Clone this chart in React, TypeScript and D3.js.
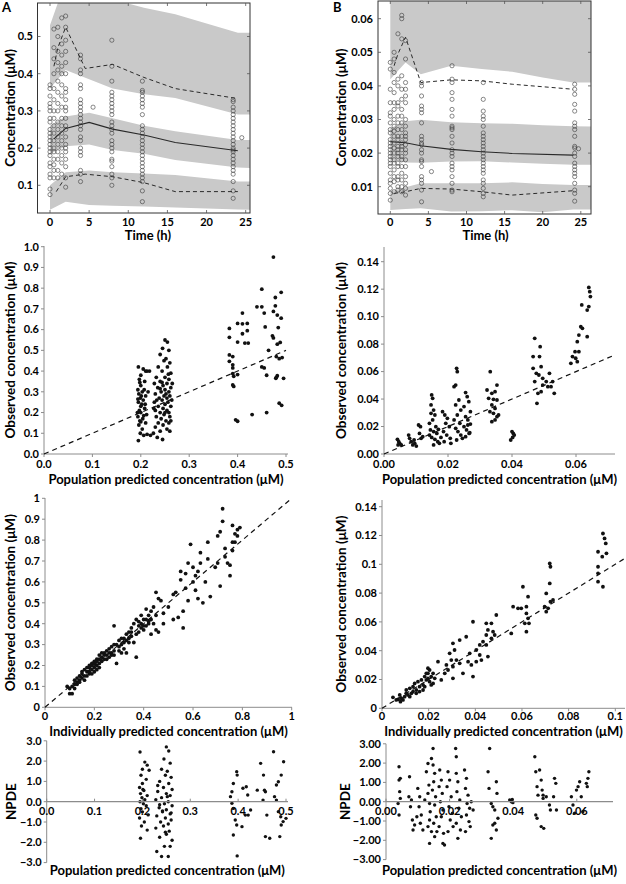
import React from "react";
import * as d3 from "d3";

// ---------------- DATA ----------------
const timeTicks = [0, 5, 10, 15, 20, 25];
const concTicksA = [0.1, 0.2, 0.3, 0.4, 0.5];
const concTicksB = [0.01, 0.02, 0.03, 0.04, 0.05, 0.06];

// Panel A VPC bands (time, lower, upper)
const bandTimesA = [0, 2, 5, 8, 12, 16, 24, 26];
const upperBandLoA = [0.36, 0.41, 0.385, 0.36, 0.345, 0.335, 0.29, 0.29];
const upperBandHiA = [0.53, 0.65, 0.65, 0.6, 0.577, 0.56, 0.51, 0.51];
const midBandLoA = [0.185, 0.205, 0.21, 0.195, 0.185, 0.168, 0.148, 0.146];
const midBandHiA = [0.26, 0.285, 0.295, 0.28, 0.26, 0.245, 0.222, 0.222];
const lowBandLoA = [0.034, 0.056, 0.047, 0.045, 0.043, 0.04, 0.035, 0.034];
const lowBandHiA = [0.1, 0.135, 0.14, 0.135, 0.132, 0.128, 0.11, 0.11];

const medianTimesA = [0.5, 2, 5, 8, 12, 16, 24];
const medianA = [0.225, 0.253, 0.269, 0.251, 0.235, 0.215, 0.193];
const p95TimesA = [0.5, 1, 2, 4.5, 8, 12, 16, 24];
const p95A = [0.42, 0.47, 0.525, 0.414, 0.425, 0.39, 0.36, 0.333];
const p5TimesA = [0.8, 2, 4.5, 8, 12, 16, 24];
const p5A = [0.083, 0.123, 0.13, 0.123, 0.107, 0.083, 0.083];

const obsTimesA = [0, 0.5, 1, 1.5, 2, 3.9, 5.5, 7.9, 11.8, 23.4, 24.5];
const obsValuesA = [
  [0.37, 0.36, 0.34, 0.32, 0.31, 0.3, 0.28, 0.27, 0.25, 0.24, 0.23, 0.22, 0.21, 0.2, 0.19, 0.18, 0.16, 0.15, 0.13, 0.12, 0.09, 0.075],
  [0.52, 0.47, 0.44, 0.4, 0.36, 0.33, 0.3, 0.28, 0.26, 0.24, 0.22, 0.2, 0.19, 0.17, 0.155, 0.14, 0.12],
  [0.525, 0.5, 0.46, 0.43, 0.41, 0.38, 0.35, 0.32, 0.3, 0.27, 0.25, 0.23, 0.21, 0.19, 0.17, 0.14, 0.12],
  [0.55, 0.48, 0.45, 0.42, 0.4, 0.37, 0.34, 0.31, 0.28, 0.26, 0.24, 0.22, 0.2, 0.18, 0.16, 0.13],
  [0.555, 0.525, 0.49, 0.46, 0.43, 0.4, 0.36, 0.35, 0.33, 0.31, 0.3, 0.28, 0.26, 0.25, 0.23, 0.21, 0.2, 0.19, 0.17, 0.15, 0.12, 0.095],
  [0.45, 0.44, 0.41, 0.4, 0.37, 0.36, 0.33, 0.32, 0.31, 0.3, 0.29, 0.28, 0.27, 0.26, 0.25, 0.23, 0.22, 0.2, 0.19, 0.18, 0.14, 0.13, 0.11],
  [0.31],
  [0.49, 0.42, 0.38, 0.35, 0.34, 0.33, 0.32, 0.31, 0.3, 0.29, 0.27, 0.26, 0.25, 0.24, 0.22, 0.21, 0.2, 0.19, 0.17, 0.165, 0.15, 0.13, 0.12, 0.1],
  [0.38, 0.355, 0.35, 0.34, 0.33, 0.32, 0.31, 0.29, 0.26, 0.25, 0.24, 0.23, 0.22, 0.21, 0.2, 0.19, 0.18, 0.17, 0.16, 0.15, 0.14, 0.13, 0.12, 0.11, 0.085, 0.056],
  [0.33, 0.325, 0.31, 0.3, 0.29, 0.28, 0.27, 0.26, 0.25, 0.24, 0.23, 0.22, 0.21, 0.2, 0.195, 0.19, 0.18, 0.17, 0.16, 0.15, 0.14, 0.13, 0.11, 0.085, 0.065],
  [0.228],
];

// Panel B VPC bands
const bandTimesB = [0, 2, 4, 8, 12, 16, 20, 24, 26.5];
const upperBandLoB = [0.042, 0.047, 0.0435, 0.046, 0.045, 0.0442, 0.0425, 0.041, 0.041];
const upperBandHiB = [0.07, 0.07, 0.07, 0.07, 0.07, 0.07, 0.07, 0.07, 0.07];
const midBandLoB = [0.018, 0.0172, 0.0171, 0.0175, 0.0176, 0.0172, 0.0168, 0.0165, 0.0165];
const midBandHiB = [0.0274, 0.0295, 0.0299, 0.0292, 0.0289, 0.0287, 0.0283, 0.028, 0.0279];
const lowBandLoB = [0.0031, 0.0034, 0.0036, 0.0026, 0.0027, 0.003, 0.0024, 0.0032, 0.0032];
const lowBandHiB = [0.0085, 0.0098, 0.011, 0.011, 0.011, 0.0113, 0.0108, 0.0105, 0.0105];

const medianTimesB = [0, 2, 4, 8, 12, 16, 24];
const medianB = [0.0234, 0.0231, 0.0222, 0.0211, 0.0204, 0.0199, 0.0194];
const p95TimesB = [0.5, 1, 2, 4, 8, 12, 16, 24];
const p95B = [0.046, 0.0495, 0.0545, 0.041, 0.0418, 0.0415, 0.0405, 0.039];
const p5TimesB = [0.5, 2, 4, 8, 12, 16, 24];
const p5B = [0.008, 0.0085, 0.0095, 0.0093, 0.0085, 0.0075, 0.0088];

const obsTimesB = [0, 0.5, 1, 1.5, 2, 4.1, 5.4, 8.1, 12.2, 24.2, 24.7];
const obsValuesB = [
  [0.047, 0.045, 0.039, 0.035, 0.032, 0.031, 0.029, 0.027, 0.026, 0.024, 0.023, 0.022, 0.021, 0.02, 0.019, 0.018, 0.017, 0.016, 0.014, 0.012, 0.011, 0.0095, 0.008, 0.006],
  [0.05, 0.048, 0.044, 0.041, 0.038, 0.035, 0.033, 0.03, 0.028, 0.0265, 0.025, 0.023, 0.0215, 0.02, 0.018, 0.017, 0.015, 0.013, 0.0115, 0.0085],
  [0.0555, 0.042, 0.04, 0.035, 0.034, 0.031, 0.029, 0.027, 0.025, 0.024, 0.022, 0.021, 0.02, 0.019, 0.017, 0.016, 0.013, 0.012, 0.01, 0.009],
  [0.061, 0.06, 0.054, 0.043, 0.039, 0.036, 0.033, 0.031, 0.029, 0.027, 0.025, 0.023, 0.022, 0.021, 0.019, 0.018, 0.016, 0.014, 0.012, 0.01, 0.0085],
  [0.0535, 0.048, 0.041, 0.039, 0.037, 0.035, 0.03, 0.028, 0.026, 0.025, 0.024, 0.0225, 0.021, 0.02, 0.018, 0.016, 0.013, 0.011, 0.0095, 0.0075],
  [0.041, 0.04, 0.037, 0.034, 0.033, 0.032, 0.029, 0.025, 0.024, 0.023, 0.0225, 0.021, 0.02, 0.018, 0.0175, 0.016, 0.013, 0.012, 0.011, 0.009, 0.0055],
  [0.0145],
  [0.046, 0.042, 0.041, 0.038, 0.036, 0.033, 0.031, 0.028, 0.0275, 0.027, 0.025, 0.023, 0.021, 0.02, 0.019, 0.017, 0.016, 0.015, 0.013, 0.011, 0.009, 0.0085],
  [0.041, 0.036, 0.0325, 0.031, 0.03, 0.028, 0.026, 0.025, 0.024, 0.023, 0.022, 0.021, 0.02, 0.019, 0.018, 0.017, 0.016, 0.015, 0.014, 0.012, 0.011, 0.0095, 0.008, 0.007],
  [0.0405, 0.039, 0.0375, 0.0345, 0.0325, 0.029, 0.028, 0.027, 0.025, 0.022, 0.0215, 0.02, 0.019, 0.017, 0.016, 0.015, 0.014, 0.013, 0.011, 0.009, 0.008, 0.0057],
  [0.0213],
];

// Observed vs population predicted, A
const predTicksA = [0, 0.1, 0.2, 0.3, 0.4, 0.5];
const obsTicksA = [0, 0.1, 0.2, 0.3, 0.4, 0.5, 0.6, 0.7, 0.8, 0.9, 1.0];
const obsVsPredA: [number, number][] = [
  [0.195, 0.42], [0.205, 0.41], [0.21, 0.4], [0.2, 0.38], [0.197, 0.36], [0.208, 0.35], [0.2, 0.33], [0.194, 0.31], [0.203, 0.3], [0.196, 0.29],
  [0.21, 0.28], [0.199, 0.27], [0.205, 0.26], [0.195, 0.25], [0.202, 0.24], [0.208, 0.22], [0.197, 0.21], [0.2, 0.2], [0.212, 0.19], [0.194, 0.18],
  [0.204, 0.17], [0.198, 0.16], [0.21, 0.15], [0.196, 0.14], [0.203, 0.12], [0.199, 0.1], [0.206, 0.09], [0.195, 0.065], [0.2, 0.23], [0.207, 0.31],
  [0.193, 0.2], [0.201, 0.28], [0.213, 0.095], [0.213, 0.4], [0.198, 0.345], [0.206, 0.185], [0.194, 0.265], [0.2, 0.155], [0.209, 0.24],
  [0.218, 0.4], [0.22, 0.09], [0.215, 0.3],
  [0.25, 0.55], [0.255, 0.54], [0.245, 0.51], [0.258, 0.5], [0.24, 0.48], [0.252, 0.46], [0.248, 0.45], [0.26, 0.44], [0.236, 0.42], [0.255, 0.42],
  [0.244, 0.4], [0.262, 0.39], [0.232, 0.37], [0.25, 0.37], [0.258, 0.36], [0.24, 0.35], [0.228, 0.34], [0.254, 0.34], [0.246, 0.33], [0.262, 0.32],
  [0.235, 0.32], [0.25, 0.31], [0.242, 0.3], [0.258, 0.3], [0.23, 0.29], [0.248, 0.28], [0.26, 0.28], [0.238, 0.27], [0.254, 0.27], [0.244, 0.26],
  [0.228, 0.25], [0.256, 0.25], [0.25, 0.24], [0.236, 0.23], [0.262, 0.23], [0.246, 0.22], [0.23, 0.21], [0.254, 0.21], [0.24, 0.2], [0.258, 0.2],
  [0.248, 0.19], [0.232, 0.18], [0.26, 0.18], [0.242, 0.17], [0.252, 0.16], [0.236, 0.15], [0.258, 0.15], [0.246, 0.14], [0.23, 0.13], [0.254, 0.12],
  [0.24, 0.11], [0.26, 0.11], [0.234, 0.08], [0.245, 0.07], [0.226, 0.1], [0.264, 0.26], [0.265, 0.34], [0.227, 0.22], [0.24, 0.315], [0.252, 0.29],
  [0.233, 0.26], [0.25, 0.2], [0.262, 0.16], [0.244, 0.345], [0.257, 0.385],
  [0.383, 0.606], [0.383, 0.563], [0.383, 0.478], [0.39, 0.47], [0.383, 0.447], [0.39, 0.43], [0.39, 0.415], [0.39, 0.388], [0.392, 0.375], [0.4, 0.383],
  [0.39, 0.333], [0.392, 0.326], [0.396, 0.165], [0.4, 0.158], [0.4, 0.63], [0.41, 0.628], [0.4, 0.54], [0.415, 0.535], [0.41, 0.58], [0.42, 0.595],
  [0.42, 0.63], [0.41, 0.68], [0.422, 0.535], [0.43, 0.19], [0.44, 0.71], [0.45, 0.795], [0.45, 0.71], [0.455, 0.68], [0.457, 0.613], [0.45, 0.42],
  [0.455, 0.415], [0.46, 0.38], [0.464, 0.5], [0.46, 0.2], [0.474, 0.95], [0.474, 0.688], [0.472, 0.57], [0.474, 0.56], [0.478, 0.755], [0.478, 0.715],
  [0.482, 0.67], [0.484, 0.61], [0.482, 0.53], [0.488, 0.538], [0.48, 0.47], [0.486, 0.46], [0.492, 0.465], [0.482, 0.378], [0.479, 0.365], [0.49, 0.78],
  [0.49, 0.655], [0.495, 0.365], [0.486, 0.245], [0.491, 0.235], [0.48, 0.37],
];

// Observed vs population predicted, B
const predTicksB = [0, 0.02, 0.04, 0.06];
const obsTicksB = [0, 0.02, 0.04, 0.06, 0.08, 0.1, 0.12, 0.14];
const obsVsPredB: [number, number][] = [
  [0.0042, 0.0107], [0.0046, 0.009], [0.0049, 0.0078], [0.0054, 0.0066], [0.0044, 0.0066],
  [0.0077, 0.0138], [0.008, 0.0114], [0.0085, 0.009], [0.009, 0.0066], [0.0096, 0.0078], [0.0101, 0.0058], [0.0094, 0.0102],
  [0.0108, 0.0211], [0.0114, 0.0199], [0.0111, 0.015], [0.0116, 0.0114], [0.0121, 0.0126],
  [0.0149, 0.043], [0.0152, 0.0405], [0.0147, 0.0357], [0.0155, 0.032], [0.0147, 0.0296], [0.0159, 0.0284], [0.0152, 0.0248], [0.0142, 0.0223],
  [0.0162, 0.0199], [0.0145, 0.0175], [0.0155, 0.0163], [0.0165, 0.015], [0.0142, 0.0138], [0.0149, 0.0121], [0.0159, 0.0107], [0.0168, 0.009],
  [0.0155, 0.0066], [0.0173, 0.0078], [0.0178, 0.0121], [0.017, 0.018],
  [0.0183, 0.0308], [0.019, 0.0284], [0.0198, 0.026], [0.0193, 0.0223], [0.0204, 0.0199], [0.0186, 0.0163], [0.0196, 0.0138], [0.0207, 0.0114],
  [0.0188, 0.009], [0.0209, 0.0078],
  [0.0224, 0.0502], [0.0229, 0.0599], [0.0227, 0.0624], [0.0219, 0.049], [0.0234, 0.0393], [0.0224, 0.0357], [0.024, 0.032], [0.0229, 0.0284],
  [0.0219, 0.0248], [0.0237, 0.0223], [0.0224, 0.0187], [0.0231, 0.0163], [0.024, 0.0138], [0.0227, 0.0102], [0.0245, 0.0114],
  [0.0255, 0.0447], [0.026, 0.0417], [0.0265, 0.0381], [0.025, 0.0345], [0.027, 0.0308], [0.0255, 0.0272], [0.0262, 0.0248], [0.027, 0.0218],
  [0.025, 0.0199], [0.0258, 0.0175], [0.0266, 0.015], [0.0255, 0.0126], [0.0268, 0.0155], [0.0262, 0.0211],
  [0.0332, 0.0599], [0.0322, 0.0466], [0.0337, 0.0442], [0.0347, 0.0454], [0.0353, 0.0502], [0.0327, 0.0405], [0.0342, 0.0398], [0.0353, 0.0393],
  [0.0337, 0.0357], [0.0347, 0.0332], [0.0331, 0.0308], [0.0342, 0.0296], [0.0353, 0.0272], [0.0337, 0.0235], [0.0347, 0.0248], [0.0358, 0.0284],
  [0.0396, 0.0102], [0.0402, 0.0121], [0.0404, 0.015], [0.0407, 0.0138], [0.04, 0.0163],
  [0.0471, 0.0842], [0.0466, 0.0709], [0.0486, 0.0709], [0.0488, 0.0781], [0.0466, 0.0624], [0.0476, 0.0587], [0.0491, 0.0636], [0.0484, 0.0575],
  [0.0496, 0.0551], [0.0471, 0.0527], [0.0507, 0.0527], [0.0517, 0.0587], [0.0527, 0.0527], [0.0512, 0.049], [0.0496, 0.0502], [0.0481, 0.0442],
  [0.0478, 0.0369], [0.0491, 0.0454], [0.0522, 0.049], [0.0532, 0.0442],
  [0.0584, 0.066], [0.0589, 0.0709], [0.0599, 0.0697], [0.0604, 0.0672], [0.0597, 0.0745], [0.0609, 0.0745], [0.0604, 0.0818], [0.0609, 0.0866],
  [0.0615, 0.0927], [0.062, 0.0915], [0.0618, 0.1085], [0.0635, 0.1048], [0.064, 0.1073], [0.0635, 0.0854], [0.064, 0.1213], [0.0643, 0.1182],
  [0.0645, 0.1146],
];

// Observed vs individual predicted, A
const ipredTicksA = [0, 0.2, 0.4, 0.6, 0.8, 1];
const obsTicksA2 = [0, 0.1, 0.2, 0.3, 0.4, 0.5, 0.6, 0.7, 0.8, 0.9, 1];
const obsVsIpredA: [number, number][] = [
  [0.09, 0.1], [0.1, 0.09], [0.1, 0.065], [0.11, 0.065], [0.11, 0.1], [0.12, 0.09], [0.12, 0.11], [0.13, 0.12], [0.13, 0.14], [0.14, 0.13],
  [0.14, 0.15], [0.15, 0.14], [0.15, 0.16], [0.16, 0.15], [0.16, 0.13], [0.17, 0.17], [0.17, 0.15], [0.18, 0.19], [0.18, 0.16], [0.18, 0.2],
  [0.19, 0.18], [0.19, 0.21], [0.2, 0.19], [0.2, 0.22], [0.2, 0.17], [0.21, 0.2], [0.21, 0.23], [0.22, 0.21], [0.22, 0.19], [0.22, 0.25],
  [0.23, 0.24], [0.23, 0.22], [0.24, 0.26], [0.24, 0.23], [0.25, 0.27], [0.25, 0.25], [0.26, 0.24], [0.26, 0.28], [0.27, 0.26], [0.27, 0.29],
  [0.28, 0.27], [0.28, 0.39], [0.28, 0.25], [0.29, 0.21], [0.29, 0.3], [0.3, 0.29], [0.3, 0.32], [0.31, 0.3], [0.31, 0.26], [0.32, 0.33],
  [0.32, 0.31], [0.33, 0.35], [0.33, 0.26], [0.34, 0.33], [0.34, 0.36], [0.35, 0.38], [0.35, 0.34], [0.36, 0.31], [0.36, 0.4], [0.37, 0.42],
  [0.37, 0.24], [0.38, 0.36], [0.38, 0.41], [0.39, 0.38], [0.39, 0.44], [0.4, 0.42], [0.4, 0.37], [0.41, 0.39], [0.41, 0.47], [0.42, 0.44],
  [0.42, 0.4], [0.43, 0.35], [0.43, 0.46], [0.44, 0.48], [0.45, 0.55], [0.45, 0.37], [0.46, 0.52], [0.46, 0.36], [0.47, 0.51], [0.48, 0.45],
  [0.48, 0.4], [0.5, 0.48], [0.52, 0.54], [0.52, 0.42], [0.53, 0.55], [0.54, 0.43], [0.55, 0.61], [0.55, 0.65], [0.56, 0.46], [0.56, 0.38],
  [0.57, 0.64], [0.57, 0.57], [0.58, 0.51], [0.58, 0.69], [0.59, 0.78], [0.6, 0.6], [0.6, 0.67], [0.61, 0.63], [0.61, 0.56], [0.62, 0.52],
  [0.62, 0.65], [0.63, 0.69], [0.63, 0.74], [0.64, 0.5], [0.65, 0.6], [0.66, 0.79], [0.66, 0.71], [0.67, 0.53], [0.69, 0.67], [0.7, 0.82],
  [0.7, 0.69], [0.71, 0.58], [0.71, 0.84], [0.72, 0.95], [0.72, 0.89], [0.73, 0.76], [0.73, 0.72], [0.74, 0.69], [0.75, 0.63], [0.75, 0.68],
  [0.76, 0.87], [0.76, 0.79], [0.77, 0.79], [0.77, 0.83], [0.78, 0.82], [0.78, 0.85], [0.79, 0.86], [0.76, 0.75],
  [0.12, 0.13], [0.13, 0.11], [0.14, 0.12], [0.15, 0.17], [0.16, 0.18], [0.17, 0.19], [0.18, 0.17], [0.19, 0.2], [0.19, 0.16], [0.2, 0.21],
  [0.21, 0.18], [0.21, 0.22], [0.22, 0.23], [0.23, 0.26], [0.24, 0.25], [0.25, 0.23], [0.26, 0.26], [0.27, 0.25], [0.28, 0.3], [0.3, 0.27],
  [0.31, 0.33], [0.32, 0.28], [0.33, 0.32], [0.34, 0.31], [0.35, 0.36], [0.37, 0.35], [0.38, 0.39], [0.39, 0.4], [0.4, 0.39], [0.41, 0.42],
  [0.42, 0.41], [0.43, 0.42], [0.44, 0.4], [0.45, 0.44],
];

// Observed vs individual predicted, B
const ipredTicksB = [0, 0.02, 0.04, 0.06, 0.08, 0.1];
const obsTicksB2 = [0, 0.02, 0.04, 0.06, 0.08, 0.1, 0.12, 0.14];
const obsVsIpredB: [number, number][] = [
  [0.0947, 0.1214], [0.0954, 0.118], [0.0959, 0.1145], [0.0962, 0.1076], [0.0926, 0.1087], [0.0944, 0.1053], [0.0926, 0.0983], [0.0926, 0.0937],
  [0.0947, 0.0844], [0.0926, 0.0879],
  [0.0719, 0.1006], [0.0722, 0.0983], [0.0719, 0.0867], [0.0704, 0.0798], [0.0697, 0.0706], [0.0704, 0.0671], [0.0712, 0.0694], [0.0722, 0.074],
  [0.0733, 0.0752],
  [0.0604, 0.0844], [0.0626, 0.0775], [0.0619, 0.0706], [0.0597, 0.0694], [0.0619, 0.0659], [0.0626, 0.0625], [0.0612, 0.059], [0.063, 0.059],
  [0.0619, 0.0532], [0.0562, 0.0706], [0.0583, 0.0694], [0.0554, 0.052],
  [0.049, 0.0648], [0.0469, 0.059], [0.0447, 0.059], [0.0454, 0.0544], [0.0476, 0.0532], [0.0483, 0.0509], [0.0469, 0.0486], [0.0447, 0.0509],
  [0.0433, 0.0463], [0.0419, 0.044], [0.0404, 0.0405], [0.0419, 0.037], [0.0447, 0.044], [0.0454, 0.0359], [0.0426, 0.0335], [0.0404, 0.0324],
  [0.0376, 0.0382], [0.0369, 0.0324], [0.0383, 0.0301], [0.039, 0.022], [0.039, 0.0601], [0.0361, 0.0497], [0.0333, 0.0474], [0.0304, 0.0451],
  [0.0311, 0.0405], [0.029, 0.0382], [0.0297, 0.0335], [0.0276, 0.0301], [0.0283, 0.0266], [0.0269, 0.0243], [0.0304, 0.0289], [0.0319, 0.0335],
  [0.0333, 0.0312], [0.0347, 0.0243], [0.0304, 0.0208], [0.0254, 0.0197], [0.024, 0.0324],
  [0.019, 0.0197], [0.0197, 0.0243], [0.0204, 0.0266], [0.0183, 0.022], [0.0211, 0.022], [0.0219, 0.0173], [0.0176, 0.0162], [0.0161, 0.015],
  [0.0147, 0.0127], [0.0133, 0.0116], [0.0126, 0.0104], [0.0111, 0.0093], [0.0097, 0.0081], [0.0083, 0.0069], [0.0069, 0.0062], [0.0076, 0.0093],
  [0.0104, 0.0127], [0.0119, 0.0139], [0.0133, 0.015], [0.0154, 0.0185], [0.014, 0.0173], [0.0169, 0.0197], [0.019, 0.0243], [0.0204, 0.0185],
  [0.0219, 0.0243], [0.0226, 0.0208], [0.0197, 0.0278], [0.0176, 0.0127], [0.0147, 0.0104], [0.0119, 0.0081], [0.009, 0.0058], [0.0104, 0.0104],
  [0.0061, 0.0058], [0.0079, 0.0046], [0.0161, 0.0116], [0.0183, 0.015], [0.0211, 0.0162], [0.0047, 0.0076], [0.0197, 0.0208],
];

// NPDE vs population predicted, A
const npdePredTicksA = [0, 0.1, 0.2, 0.3, 0.4, 0.5];
const npdeTicksA = [-3, -2, -1, 0, 1, 2, 3];
const npdeClusterPredA1 = [0.195, 0.205, 0.21, 0.2, 0.197, 0.208, 0.2, 0.194, 0.203, 0.196, 0.21, 0.199, 0.205, 0.195, 0.202, 0.208, 0.197, 0.2, 0.212, 0.194, 0.204, 0.198, 0.21, 0.196, 0.214, 0.201];
const npdeClusterValA1 = [2.45, 1.95, 1.8, 1.6, 1.3, 1.1, 0.9, 0.7, 0.55, 0.4, 0.3, 0.2, 0.1, 0.0, -0.1, -0.2, -0.35, -0.5, -0.65, -0.8, -1.0, -1.2, -1.4, -1.8, 1.55, 0.6];
const npdeClusterPredA2 = [0.25, 0.255, 0.245, 0.258, 0.24, 0.252, 0.248, 0.26, 0.236, 0.255, 0.244, 0.262, 0.232, 0.25, 0.258, 0.24, 0.228, 0.254, 0.246, 0.262, 0.235, 0.25, 0.242, 0.258, 0.23, 0.248, 0.26, 0.238, 0.254, 0.244, 0.228, 0.256, 0.25, 0.236, 0.262, 0.246, 0.23, 0.254, 0.24, 0.258, 0.248, 0.232, 0.26, 0.242, 0.252, 0.236];
const npdeClusterValA2 = [2.7, 2.5, 2.1, 1.9, 1.6, 1.5, 1.3, 1.2, 1.0, 0.9, 0.7, 0.6, 0.5, 0.4, 0.3, 0.2, 0.1, 0.0, -0.1, -0.2, -0.3, -0.4, -0.5, -0.6, -0.7, -0.8, -0.9, -1.0, -1.1, -1.2, -1.3, -1.45, -1.6, -1.75, -1.9, -2.2, -2.45, -2.7, -2.7, -2.2, -1.5, 0.8, -0.55, -0.45, 0.25, -0.15];
const npdeHighA: [number, number][] = [
  [0.384, 0.25], [0.387, -0.08], [0.39, -0.33], [0.397, 1.48], [0.398, 1.31], [0.39, 0.9], [0.387, 0.49], [0.394, -0.9], [0.397, -1.15], [0.39, -1.64],
  [0.398, -2.67], [0.408, -1.23], [0.41, 0.66], [0.417, 0.74], [0.42, 0.33], [0.421, -0.66], [0.415, -0.66], [0.426, -0.41], [0.44, 0.57], [0.447, 1.89],
  [0.453, 1.31], [0.455, 0.57], [0.457, 0.49], [0.452, 0.08], [0.46, -0.66], [0.457, -1.72], [0.466, -1.8], [0.474, 2.46], [0.476, 0.25], [0.48, 0.08],
  [0.484, 0.98], [0.48, 0.82], [0.49, 1.31], [0.495, 1.97], [0.484, -0.49], [0.489, -0.74], [0.49, -1.15], [0.494, -0.98], [0.487, -1.72], [0.5, -0.82],
];

// NPDE vs population predicted, B
const npdePredTicksB = [0, 0.02, 0.04, 0.06];
const npdeTicksB = [-3, -2, -1, 0, 1, 2, 3];
const npdeB: [number, number][] = [
  [0.0041, 1.81], [0.0045, 1.21], [0.0041, 1.12], [0.0043, 0.52], [0.0045, 0.17], [0.0038, -0.09], [0.0041, -0.69],
  [0.0074, 1.29], [0.0077, -0.26], [0.0072, 0.26], [0.008, 0.09], [0.0083, -0.95], [0.0085, -1.47], [0.009, -1.21],
  [0.01, 0.69], [0.0106, 0.26], [0.0104, -0.26], [0.0111, -0.69], [0.0108, -1.12], [0.0116, -1.47], [0.0097, -0.78],
  [0.0127, 1.55], [0.0132, 1.98], [0.0135, 0.86], [0.0132, 0.43], [0.0137, -0.09], [0.0139, -0.52], [0.0137, -0.95], [0.0132, -1.29],
  [0.0143, -1.55], [0.0137, -2.16], [0.0122, 0.09],
  [0.0148, 2.76], [0.0143, 2.24], [0.0148, 1.9], [0.0153, 1.47], [0.015, 1.03], [0.0146, 0.6], [0.0156, 0.26], [0.0153, -0.17], [0.0158, -0.78],
  [0.015, -1.12], [0.016, -1.55], [0.0153, -1.81],
  [0.0169, 1.64], [0.0174, 1.12], [0.0167, 0.78], [0.0177, 0.43], [0.0171, 0.0], [0.0179, -0.43], [0.0174, -0.78], [0.0167, -1.29], [0.0181, -1.64],
  [0.0179, -2.16], [0.0184, -2.24],
  [0.0195, 1.55], [0.02, 1.12], [0.0192, 0.78], [0.0205, 0.26], [0.0198, -0.26], [0.0209, -0.6], [0.0202, -0.95], [0.0211, -1.29], [0.0195, -1.55],
  [0.0221, 1.47], [0.0226, 1.03], [0.0223, 0.52], [0.0232, 0.09], [0.0229, -0.34], [0.0237, -0.78], [0.0221, -1.12], [0.0234, -1.47], [0.0226, -1.9],
  [0.0219, 2.76], [0.0221, 2.33],
  [0.0247, 1.64], [0.0253, 1.21], [0.025, 0.69], [0.0258, 0.34], [0.0255, -0.09], [0.0263, -0.34], [0.0253, -0.69], [0.0261, -1.03], [0.0265, -1.29],
  [0.025, -1.55], [0.0268, 0.0], [0.0274, -0.43],
  [0.0326, 2.76], [0.0321, 1.55], [0.0324, 0.69], [0.0331, -0.09], [0.0336, -0.26], [0.0342, -0.43], [0.0347, 1.03], [0.0349, 0.43], [0.0342, -1.12],
  [0.0347, -1.47], [0.0331, -1.9], [0.0352, -0.86], [0.0336, -1.21],
  [0.0389, 0.09], [0.0394, 0.0], [0.0397, 0.12], [0.0399, -0.05],
  [0.0468, 2.33], [0.0471, 1.55], [0.0475, 0.78], [0.0478, 0.34], [0.0471, -0.69], [0.0475, -0.86], [0.0483, 1.64], [0.0488, 1.12], [0.0491, 0.6],
  [0.0494, 0.34], [0.0488, -1.29], [0.0496, -1.38], [0.0494, 0.17], [0.0504, 0.26], [0.0514, -0.17], [0.0517, -0.43], [0.053, 1.21], [0.0534, 0.95],
  [0.0536, -0.43], [0.0527, 0.26],
  [0.0583, 0.26], [0.0588, -0.17], [0.0593, -0.6], [0.0599, 0.6], [0.0604, 0.78], [0.0609, 1.03], [0.0614, 0.26], [0.0619, -0.52], [0.063, 0.95],
  [0.0635, 1.21], [0.0638, 1.55], [0.0633, 0.78],
];

// ---------------- RENDERING ----------------
const FONT = "Lato, 'Open Sans', 'DejaVu Sans', sans-serif";
const BAND = "#c9c9c9";
const INK = "#2a2a2a";
const AXIS = "#8c8c8c";
const TICK_FS = 11;
const XTITLE_FS = 13;
const YTITLE_FS = 13.5;

type Scale = d3.ScaleLinear<number, number>;

function Band({ xs, ys, t, lo, hi }: { xs: Scale; ys: Scale; t: number[]; lo: number[]; hi: number[] }) {
  const idx = t.map((_, i) => i);
  const a = d3
    .area<number>()
    .x((i) => xs(t[i]))
    .y0((i) => ys(lo[i]))
    .y1((i) => ys(hi[i]));
  return <path d={a(idx) || ""} fill={BAND} stroke="none" />;
}

function Line({ xs, ys, t, v, dash }: { xs: Scale; ys: Scale; t: number[]; v: number[]; dash?: string }) {
  const idx = t.map((_, i) => i);
  const l = d3
    .line<number>()
    .x((i) => xs(t[i]))
    .y((i) => ys(v[i]));
  return <path d={l(idx) || ""} fill="none" stroke={INK} strokeWidth={dash ? 1 : 1.1} strokeDasharray={dash} />;
}

function VpcPanel(props: {
  id: string;
  x0: number; x1: number; y0: number; y1: number;
  xs: Scale; ys: Scale;
  yTicks: number[]; yFmt: (v: number) => string;
  bands: { t: number[]; lo: number[]; hi: number[] }[];
  med: [number[], number[]]; p95: [number[], number[]]; p5: [number[], number[]];
  obsT: number[]; obsV: number[][];
  letter: string; letterX: number; titleX: number; labelRight: number;
}) {
  const { id, x0, x1, y0, y1, xs, ys } = props;
  return (
    <g>
      <defs>
        <clipPath id={id}>
          <rect x={x0} y={y0} width={x1 - x0} height={y1 - y0} />
        </clipPath>
      </defs>
      <g clipPath={`url(#${id})`}>
        {props.bands.map((b, i) => (
          <Band key={i} xs={xs} ys={ys} t={b.t} lo={b.lo} hi={b.hi} />
        ))}
        {props.obsT.map((t, i) =>
          props.obsV[i].map((v, j) => (
            <circle key={`${i}-${j}`} cx={xs(t)} cy={ys(v)} r={2.1} fill="none" stroke="#3a3a3a" strokeWidth={0.6} />
          ))
        )}
        <Line xs={xs} ys={ys} t={props.med[0]} v={props.med[1]} />
        <Line xs={xs} ys={ys} t={props.p95[0]} v={props.p95[1]} dash="4,3" />
        <Line xs={xs} ys={ys} t={props.p5[0]} v={props.p5[1]} dash="4,3" />
      </g>
      <rect x={x0} y={y0} width={x1 - x0} height={y1 - y0} fill="none" stroke="#333" strokeWidth={1} />
      {timeTicks.map((t) => (
        <g key={t}>
          <line x1={xs(t)} x2={xs(t)} y1={y1} y2={y1 - 3} stroke="#555" strokeWidth={0.8} />
          <line x1={xs(t)} x2={xs(t)} y1={y0} y2={y0 + 3} stroke="#555" strokeWidth={0.8} />
          <text x={xs(t)} y={226} textAnchor="middle" fontSize={TICK_FS} fontWeight={700}>{t}</text>
        </g>
      ))}
      {props.yTicks.map((v) => (
        <g key={v}>
          <line x1={x0} x2={x0 + 3} y1={ys(v)} y2={ys(v)} stroke="#555" strokeWidth={0.8} />
          <line x1={x1} x2={x1 - 3} y1={ys(v)} y2={ys(v)} stroke="#555" strokeWidth={0.8} />
          <text x={props.labelRight} y={ys(v)} dy="0.35em" textAnchor="end" fontSize={TICK_FS} fontWeight={700}>{props.yFmt(v)}</text>
        </g>
      ))}
      <text x={(xs(0) + xs(25)) / 2} y={240} textAnchor="middle" fontSize={XTITLE_FS} fontWeight={700}>Time (h)</text>
      <text transform={`translate(${props.titleX},${(y0 + y1) / 2}) rotate(-90)`} textAnchor="middle" dy="0.35em" fontSize={YTITLE_FS} fontWeight={700}>Concentration (μM)</text>
      <text x={props.letterX} y={12} fontSize={13} fontWeight={700}>{props.letter}</text>
    </g>
  );
}

function ScatterPanel(props: {
  xs: Scale; ys: Scale;
  xTicks: number[]; yTicks: number[];
  xFmt: (v: number) => string; yFmt: (v: number) => string;
  xEnd: number; yTop: number;
  pts: [number, number][];
  identity: number;
  xLabelY: number; titleY: number; titleX: number; xTitle: string; yTitle: string;
}) {
  const { xs, ys } = props;
  const x0 = xs(0), yb = ys(0);
  return (
    <g>
      <line x1={x0} x2={x0} y1={yb} y2={props.yTop} stroke={AXIS} strokeWidth={1} />
      <line x1={x0} x2={props.xEnd} y1={yb} y2={yb} stroke={AXIS} strokeWidth={1} />
      {props.yTicks.map((v) => (
        <g key={v}>
          <line x1={x0 - 3} x2={x0} y1={ys(v)} y2={ys(v)} stroke={AXIS} strokeWidth={1} />
          <text x={x0 - 5} y={ys(v)} dy="0.35em" textAnchor="end" fontSize={TICK_FS} fontWeight={700}>{props.yFmt(v)}</text>
        </g>
      ))}
      {props.xTicks.map((v) => (
        <g key={v}>
          <line x1={xs(v)} x2={xs(v)} y1={yb} y2={yb + 3} stroke={AXIS} strokeWidth={1} />
          <text x={xs(v)} y={props.xLabelY} textAnchor="middle" fontSize={TICK_FS} fontWeight={700}>{props.xFmt(v)}</text>
        </g>
      ))}
      {props.pts.map((p, i) => (
        <circle key={i} cx={xs(p[0])} cy={ys(p[1])} r={1.9} fill="#111" />
      ))}
      <line x1={xs(0)} y1={ys(0)} x2={xs(props.identity)} y2={ys(props.identity)} stroke="#111" strokeWidth={1.2} strokeDasharray="5,4" />
      <text x={(x0 + props.xEnd) / 2} y={props.titleY} textAnchor="middle" fontSize={XTITLE_FS} fontWeight={700}>{props.xTitle}</text>
      <text transform={`translate(${props.titleX},${(yb + props.yTop) / 2}) rotate(-90)`} textAnchor="middle" dy="0.35em" fontSize={YTITLE_FS} fontWeight={700}>{props.yTitle}</text>
    </g>
  );
}

function NpdePanel(props: {
  xs: Scale; ys: Scale;
  xTicks: number[]; yTicks: number[];
  xFmt: (v: number) => string; yFmt: (v: number) => string;
  xEnd: number; pts: [number, number][];
  titleX: number; xTitle: string;
}) {
  const { xs, ys } = props;
  const x0 = xs(0);
  return (
    <g>
      <line x1={x0} x2={x0} y1={ys(-3)} y2={ys(3)} stroke={AXIS} strokeWidth={1} />
      {props.yTicks.map((v) => (
        <g key={v}>
          <line x1={x0 - 3} x2={x0} y1={ys(v)} y2={ys(v)} stroke={AXIS} strokeWidth={1} />
          <text x={x0 - 5} y={ys(v)} dy="0.35em" textAnchor="end" fontSize={TICK_FS} fontWeight={700}>{props.yFmt(v)}</text>
        </g>
      ))}
      {props.xTicks.map((v) => (
        <g key={v}>
          <line x1={xs(v)} x2={xs(v)} y1={ys(0)} y2={ys(0) - 3} stroke={AXIS} strokeWidth={1} />
          <text x={xs(v)} y={ys(0) + 13} textAnchor="middle" fontSize={TICK_FS} fontWeight={700}>{props.xFmt(v)}</text>
        </g>
      ))}
      {props.pts.map((p, i) => (
        <circle key={i} cx={xs(p[0])} cy={ys(p[1])} r={1.7} fill="#111" />
      ))}
      <line x1={x0} x2={props.xEnd} y1={ys(0)} y2={ys(0)} stroke={AXIS} strokeWidth={1.2} />
      <text x={(x0 + props.xEnd) / 2} y={875} textAnchor="middle" fontSize={XTITLE_FS} fontWeight={700}>{props.xTitle}</text>
      <text transform={`translate(${props.titleX},${ys(0)}) rotate(-90)`} textAnchor="middle" dy="0.35em" fontSize={YTITLE_FS} fontWeight={700}>NPDE</text>
    </g>
  );
}

export default function App() {
  // VPC scales
  const xsA = d3.scaleLinear().domain([0, 25]).range([50, 245.7]);
  const ysA = d3.scaleLinear().domain([0, 0.5]).range([222.5, 36.5]);
  const xsB = d3.scaleLinear().domain([0, 25]).range([390.3, 580.8]);
  const ysB = d3.scaleLinear().domain([0, 0.06]).range([220.3, 18.7]);

  // GOF scales
  const xsA2 = d3.scaleLinear().domain([0, 0.5]).range([44, 286]);
  const ysA2 = d3.scaleLinear().domain([0, 1]).range([454, 246.7]);
  const xsB2 = d3.scaleLinear().domain([0, 0.07]).range([384, 608]);
  const ysB2 = d3.scaleLinear().domain([0, 0.14]).range([454, 261.7]);

  const xsA3 = d3.scaleLinear().domain([0, 1]).range([45, 291.7]);
  const ysA3 = d3.scaleLinear().domain([0, 1]).range([707.3, 498.3]);
  const xsB3 = d3.scaleLinear().domain([0, 0.1]).range([382, 615.3]);
  const ysB3 = d3.scaleLinear().domain([0, 0.14]).range([708.3, 506.7]);

  const xsA4 = d3.scaleLinear().domain([0, 0.5]).range([46.7, 286]);
  const ysA4 = d3.scaleLinear().domain([-3, 3]).range([862.6, 740.8]);
  const xsB4 = d3.scaleLinear().domain([0, 0.06]).range([386, 576.8]);
  const ysB4 = d3.scaleLinear().domain([-3, 3]).range([859.6, 743.8]);

  const f1 = d3.format(".1f");
  const f2 = d3.format(".2f");
  const fg = d3.format("~g");

  const npdeA: [number, number][] = [
    ...npdeClusterPredA1.map((p, i) => [p, npdeClusterValA1[i]] as [number, number]),
    ...npdeClusterPredA2.map((p, i) => [p, npdeClusterValA2[i]] as [number, number]),
    ...npdeHighA,
  ];

  return (
    <svg width={626} height={884} style={{ display: "block", position: "absolute", left: 0, top: 0, fontFamily: FONT }} fontFamily={FONT}>
      <rect width={626} height={884} fill="#fff" />
      <VpcPanel
        id="clipA" x0={37.5} x1={250} y0={3} y1={213} xs={xsA} ys={ysA}
        yTicks={concTicksA} yFmt={f1}
        bands={[
          { t: bandTimesA, lo: upperBandLoA, hi: upperBandHiA },
          { t: bandTimesA, lo: midBandLoA, hi: midBandHiA },
          { t: bandTimesA, lo: lowBandLoA, hi: lowBandHiA },
        ]}
        med={[medianTimesA, medianA]} p95={[p95TimesA, p95A]} p5={[p5TimesA, p5A]}
        obsT={obsTimesA} obsV={obsValuesA}
        letter="A" letterX={2} titleX={10} labelRight={33}
      />
      <VpcPanel
        id="clipB" x0={378} x1={591} y0={1} y1={214} xs={xsB} ys={ysB}
        yTicks={concTicksB} yFmt={f2}
        bands={[
          { t: bandTimesB, lo: upperBandLoB, hi: upperBandHiB },
          { t: bandTimesB, lo: midBandLoB, hi: midBandHiB },
          { t: bandTimesB, lo: lowBandLoB, hi: lowBandHiB },
        ]}
        med={[medianTimesB, medianB]} p95={[p95TimesB, p95B]} p5={[p5TimesB, p5B]}
        obsT={obsTimesB} obsV={obsValuesB}
        letter="B" letterX={333} titleX={341} labelRight={373}
      />
      <ScatterPanel
        xs={xsA2} ys={ysA2} xTicks={predTicksA} yTicks={obsTicksA} xFmt={f1} yFmt={f1}
        xEnd={288} yTop={246} pts={obsVsPredA} identity={0.5}
        xLabelY={468} titleY={484} titleX={10}
        xTitle="Population predicted concentration (μM)" yTitle="Observed concentration (μM)"
      />
      <ScatterPanel
        xs={xsB2} ys={ysB2} xTicks={predTicksB} yTicks={obsTicksB} xFmt={f2} yFmt={f2}
        xEnd={615} yTop={247} pts={obsVsPredB} identity={0.072}
        xLabelY={468} titleY={484} titleX={341}
        xTitle="Population predicted concentration (μM)" yTitle="Observed concentration (μM)"
      />
      <ScatterPanel
        xs={xsA3} ys={ysA3} xTicks={ipredTicksA} yTicks={obsTicksA2} xFmt={fg} yFmt={fg}
        xEnd={292} yTop={498} pts={obsVsIpredA} identity={1}
        xLabelY={720} titleY={736} titleX={10}
        xTitle="Individually predicted concentration (μM)" yTitle="Observed concentration (μM)"
      />
      <ScatterPanel
        xs={xsB3} ys={ysB3} xTicks={ipredTicksB} yTicks={obsTicksB2} xFmt={fg} yFmt={fg}
        xEnd={625} yTop={500} pts={obsVsIpredB} identity={0.105}
        xLabelY={720} titleY={736} titleX={341}
        xTitle="Individually predicted concentration (μM)" yTitle="Observed concentration (μM)"
      />
      <NpdePanel
        xs={xsA4} ys={ysA4} xTicks={npdePredTicksA} yTicks={npdeTicksA} xFmt={f1} yFmt={f1}
        xEnd={288} pts={npdeA} titleX={11} xTitle="Population predicted concentration (μM)"
      />
      <NpdePanel
        xs={xsB4} ys={ysB4} xTicks={npdePredTicksB} yTicks={npdeTicksB} xFmt={f2} yFmt={f2}
        xEnd={613} pts={npdeB} titleX={345} xTitle="Population predicted concentration (μM)"
      />
    </svg>
  );
}
